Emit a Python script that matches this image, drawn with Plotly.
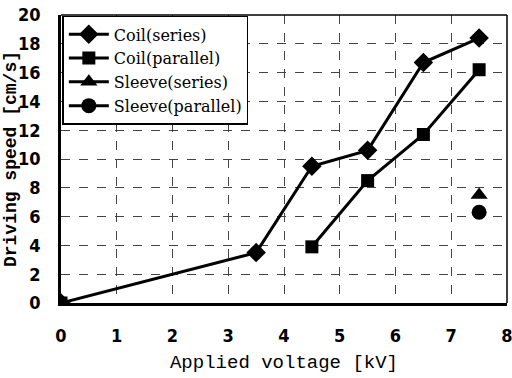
import plotly.graph_objects as go

# Applied voltage [kV] and measured driving speed [cm/s]
voltage = [0, 3.5, 4.5, 5.5, 6.5, 7.5]
coil_series = [0, 3.5, 9.5, 10.6, 16.7, 18.4]
coil_parallel = [0, None, 3.9, 8.5, 11.7, 16.2]
sleeve_series_v = [7.5]
sleeve_series = [7.5]
sleeve_parallel_v = [7.5]
sleeve_parallel = [6.3]

x_ticks = [0, 1, 2, 3, 4, 5, 6, 7, 8]
y_ticks = [0, 2, 4, 6, 8, 10, 12, 14, 16, 18, 20]

line = dict(color="black", width=3)
fig = go.Figure()
fig.add_trace(go.Scatter(x=voltage, y=coil_series, name="Coil(series)",
                         mode="lines+markers", line=line,
                         marker=dict(symbol="diamond", size=15, color="black")))
fig.add_trace(go.Scatter(x=voltage, y=coil_parallel, name="Coil(parallel)",
                         mode="lines+markers", line=line, connectgaps=False,
                         marker=dict(symbol="square", size=13, color="black")))
fig.add_trace(go.Scatter(x=sleeve_series_v, y=sleeve_series, name="Sleeve(series)",
                         mode="lines+markers", line=line,
                         marker=dict(symbol="triangle-up", size=15, color="black")))
fig.add_trace(go.Scatter(x=sleeve_parallel_v, y=sleeve_parallel, name="Sleeve(parallel)",
                         mode="lines+markers", line=line,
                         marker=dict(symbol="circle", size=15, color="black")))

tick_font = dict(family="Liberation Sans Narrow, DejaVu Sans Condensed, Arial", size=18,
                 color="black", weight="bold")
title_font = dict(family="Liberation Mono, Courier New, monospace", size=19, color="black")

fig.update_layout(
    width=512, height=378,
    margin=dict(l=61, r=5, t=15, b=75, autoexpand=False),
    paper_bgcolor="white", plot_bgcolor="white",
    showlegend=True,
    legend=dict(x=0.003, y=0.997, xanchor="left", yanchor="top",
                bgcolor="white", bordercolor="black", borderwidth=1.5,
                font=dict(family="DejaVu Serif, Liberation Serif, serif", size=16,
                          color="black"),
                tracegroupgap=0, itemwidth=40),
    xaxis=dict(range=[0, 8], tickvals=x_ticks, ticktext=[str(v) for v in x_ticks],
               showgrid=True, gridcolor="#444444", griddash="dash", gridwidth=1,
               showline=True, linecolor="black", linewidth=2.5, mirror=False,
               zeroline=False, ticks="", tickfont=tick_font, automargin=False,
               ticklabeloverflow="allow", ticklabelstandoff=15,
               title=dict(text="Applied voltage [kV]", font=title_font, standoff=10)),
    yaxis=dict(range=[0, 20], tickvals=y_ticks, ticktext=[str(v) for v in y_ticks],
               showgrid=True, gridcolor="#444444", griddash="dash", gridwidth=1,
               showline=True, linecolor="black", linewidth=2.5, mirror=False,
               zeroline=False, ticks="", tickfont=tick_font, automargin=False,
               ticklabeloverflow="allow", ticklabelstandoff=14),
)

# Vertical axis title, placed just left of the tick labels
fig.add_annotation(text="<b>Driving speed [cm/s]</b>", textangle=-90,
                   xref="paper", yref="paper", x=-0.112, y=0.5,
                   xanchor="center", yanchor="middle", showarrow=False,
                   font=dict(family="Liberation Mono, Courier New, monospace",
                             size=18, color="black"))

# Thin frame along the top and right edges of the plotting area
fig.add_shape(type="line", xref="paper", yref="paper", x0=0, x1=1, y0=1, y1=1,
              line=dict(color="black", width=1.5))
fig.add_shape(type="line", xref="paper", yref="paper", x0=1, x1=1, y0=0, y1=1,
              line=dict(color="black", width=1.5))

fig.write_html("out.html")
